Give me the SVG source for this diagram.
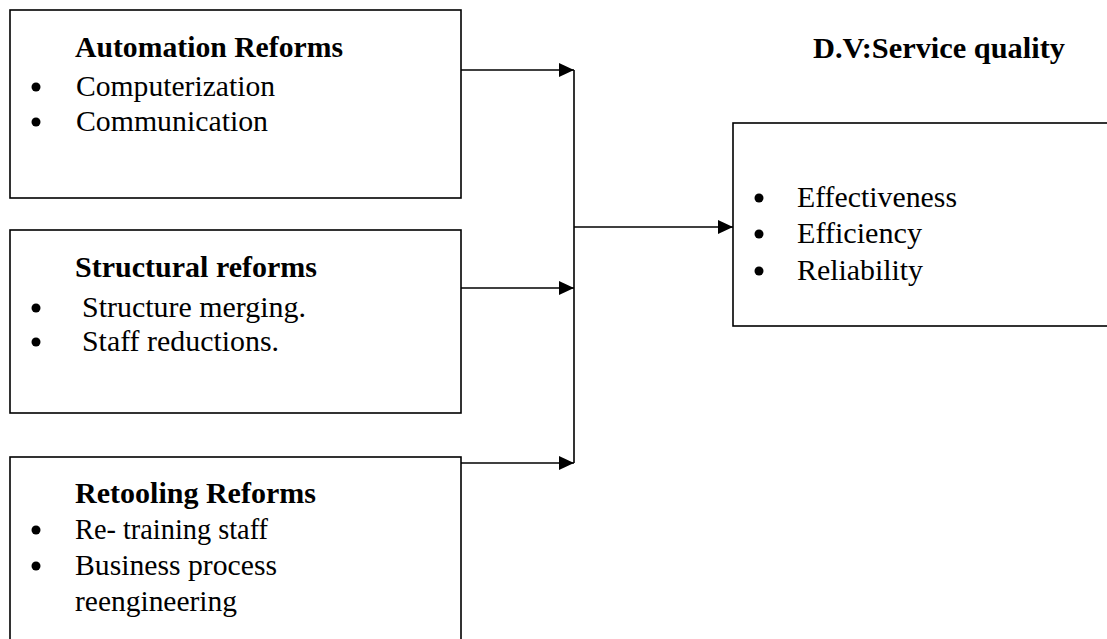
<svg xmlns="http://www.w3.org/2000/svg" width="1107" height="639" viewBox="0 0 1107 639">
<style>
.box{fill:none;stroke:#000;stroke-width:1.6}
.t{font-family:'Liberation Serif',serif;font-size:29px;fill:#000}
.b{font-weight:bold}
.dot{fill:#000}
.ln{stroke:#000;stroke-width:1.6;fill:none}
</style>
<defs>
<marker id="ah" markerUnits="userSpaceOnUse" markerWidth="16" markerHeight="14" refX="15" refY="7" orient="auto">
<path d="M0,0 L15,7 L0,14 Z" fill="#000"/>
</marker>
</defs>
<g id="connectors">
<line class="ln" x1="461" y1="70" x2="574" y2="70" marker-end="url(#ah)"/>
<line class="ln" x1="461" y1="288" x2="574" y2="288" marker-end="url(#ah)"/>
<line class="ln" x1="461" y1="463" x2="574" y2="463" marker-end="url(#ah)"/>
<line class="ln" x1="574" y1="70" x2="574" y2="463"/>
<line class="ln" x1="574" y1="227" x2="733" y2="227" marker-end="url(#ah)"/>
</g>
<g id="automation">
<rect class="box" x="10" y="10" width="451" height="188"/>
<text class="t b" x="75" y="57" textLength="268" lengthAdjust="spacingAndGlyphs">Automation Reforms</text>
<circle class="dot" cx="36" cy="87" r="4.5"/>
<text class="t" x="76" y="96" textLength="199" lengthAdjust="spacingAndGlyphs">Computerization</text>
<circle class="dot" cx="36" cy="122" r="4.5"/>
<text class="t" x="76" y="131" textLength="192" lengthAdjust="spacingAndGlyphs">Communication</text>
</g>
<g id="structural">
<rect class="box" x="10" y="230" width="451" height="183"/>
<text class="t b" x="75" y="277" textLength="242" lengthAdjust="spacingAndGlyphs">Structural reforms</text>
<circle class="dot" cx="36" cy="308" r="4.5"/>
<text class="t" x="82" y="317" textLength="224" lengthAdjust="spacingAndGlyphs">Structure merging.</text>
<circle class="dot" cx="36" cy="342" r="4.5"/>
<text class="t" x="82" y="351" textLength="197" lengthAdjust="spacingAndGlyphs">Staff reductions.</text>
</g>
<g id="retooling">
<rect class="box" x="10" y="457" width="451" height="200"/>
<text class="t b" x="75" y="503" textLength="241" lengthAdjust="spacingAndGlyphs">Retooling Reforms</text>
<circle class="dot" cx="36" cy="530" r="4.5"/>
<text class="t" x="75" y="539" textLength="193" lengthAdjust="spacingAndGlyphs">Re- training staff</text>
<circle class="dot" cx="36" cy="566" r="4.5"/>
<text class="t" x="75" y="575" textLength="202" lengthAdjust="spacingAndGlyphs">Business process</text>
<text class="t" x="75" y="611" textLength="162" lengthAdjust="spacingAndGlyphs">reengineering</text>
</g>
<g id="service-quality">
<text class="t b" x="813" y="58" textLength="252" lengthAdjust="spacingAndGlyphs">D.V:Service quality</text>
<rect class="box" x="733" y="123" width="400" height="203"/>
<circle class="dot" cx="759" cy="198" r="4.5"/>
<text class="t" x="797" y="207" textLength="160" lengthAdjust="spacingAndGlyphs">Effectiveness</text>
<circle class="dot" cx="759" cy="234" r="4.5"/>
<text class="t" x="797" y="243" textLength="125" lengthAdjust="spacingAndGlyphs">Efficiency</text>
<circle class="dot" cx="759" cy="271" r="4.5"/>
<text class="t" x="797" y="280" textLength="126" lengthAdjust="spacingAndGlyphs">Reliability</text>
</g>
</svg>
